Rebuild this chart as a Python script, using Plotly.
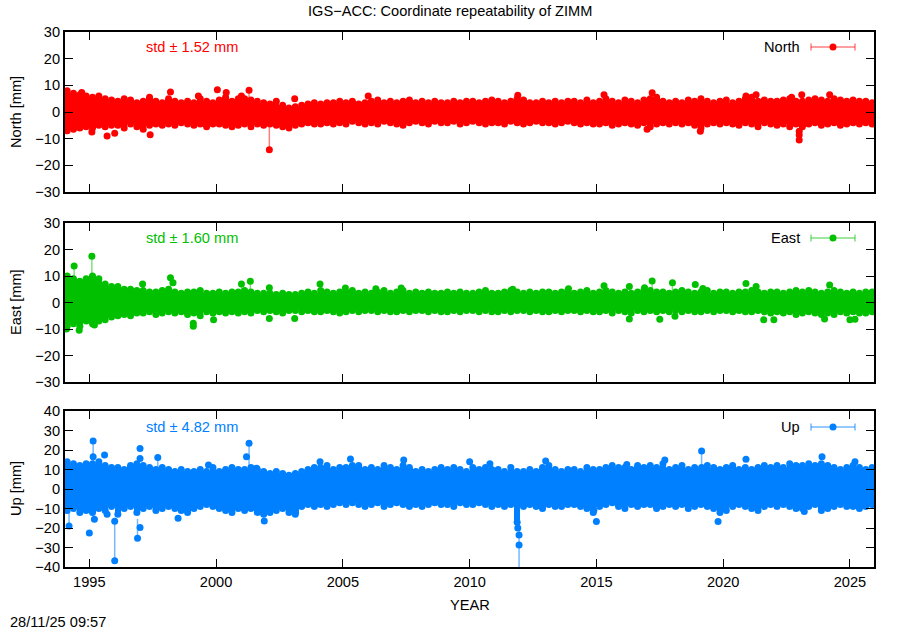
import plotly.graph_objects as go
from plotly.subplots import make_subplots

# ---------------- data ----------------
# quarter-year bins: 1994.0 ... 2025.75 (bin centres)
bin_years = [1994.125 + 0.25 * i for i in range(128)]

north_hi = [8, 7, 6.5, 6, 5.5, 6, 5, 4.5, 4, 5, 4.5, 3.5, 4, 5.5, 4, 3.5,
            5, 4, 3.5, 4, 3.5, 5, 4, 3.5, 4.5, 5.5, 4, 5, 5, 4.5, 4, 3.5,
            3, 4, 2.5, 1.5, 2, 2.5, 3, 3.5, 3, 3.5, 3.5, 4, 3.5, 4, 3, 3.5,
            4, 4.5, 3.5, 4, 3.5, 4, 4.5, 3.5, 4, 3.5, 4, 3.5, 3.5, 4, 3.5, 4,
            4, 3.5, 4, 4.5, 4, 3.5, 4, 5, 4.5, 3.5, 3.5, 4, 3.5, 4, 3.5, 4,
            4, 3.5, 4.5, 3.5, 4, 5, 4, 3.5, 4.5, 4, 3.5, 4.5, 5, 5.5, 4, 3.5,
            4, 3.5, 4.5, 4, 5, 4, 3.5, 4, 4.5, 3.5, 4, 5, 5.5, 4, 4.5, 4,
            4, 4.5, 5, 4, 4, 4.5, 5, 4.5, 4, 5, 4.5, 4, 4.5, 4, 4, 3.5]
north_lo = [-7, -6.5, -6, -5.5, -6, -5, -5.5, -5, -5, -6, -4.5, -5.5, -6.5, -5, -4.5, -5,
            -4.5, -5, -4, -4.5, -5, -4.5, -5.5, -4.5, -4.5, -5, -5.5, -5, -4.5, -5.5, -4.5, -5,
            -4.5, -5, -5.5, -6, -5, -4.5, -4, -4.5, -4.5, -4, -4.5, -4, -4.5, -3.5, -4, -4.5,
            -4, -4.5, -3.5, -4, -4.5, -5, -4, -3.5, -4, -4.5, -3.5, -4, -4, -3.5, -4.5, -4,
            -3.5, -4, -4.5, -4, -4, -4.5, -3.5, -4, -4.5, -4, -3.5, -4, -4, -4.5, -4, -3.5,
            -4, -4.5, -4, -4.5, -4.5, -4, -5, -4.5, -4, -4.5, -5, -4, -5.5, -4.5, -4, -4.5,
            -4, -4.5, -4, -5, -6, -4.5, -4, -4.5, -4, -4.5, -5, -4, -4.5, -5.5, -4, -4.5,
            -5, -4.5, -5.5, -4.5, -5.5, -4.5, -4, -5, -4.5, -4, -5, -4.5, -4, -4.5, -4, -4.5]

east_hi = [10, 9, 8, 9, 10, 9, 7, 6, 6, 5, 5, 4.5, 4.5, 4, 4, 4.5,
           5, 4, 3.5, 4, 4, 4.5, 3.5, 3.5, 4, 3.5, 4, 4, 4.5, 4, 3.5, 3.5,
           3.5, 3, 3.5, 3, 3, 3.5, 4, 3.5, 4.5, 4, 3.5, 4, 4, 4.5, 3.5, 4,
           3.5, 4, 4.5, 3.5, 4, 4.5, 3.5, 4, 3.5, 4, 3.5, 3.5, 4, 3.5, 4, 3.5,
           3.5, 4, 4.5, 3.5, 3.5, 4, 4.5, 4, 3.5, 4, 3.5, 4, 4, 3.5, 4, 4.5,
           3.5, 4, 4.5, 3.5, 4, 4.5, 4, 3.5, 4, 3.5, 4, 4.5, 4.5, 4, 4, 3.5,
           4, 4.5, 4, 3.5, 4, 4.5, 3.5, 4, 4, 3.5, 4, 4, 4.5, 4, 3.5, 4,
           4, 3.5, 4, 4.5, 4, 4.5, 4, 3.5, 4, 4.5, 4, 3.5, 4, 3.5, 4, 4]
east_lo = [-9, -8, -9, -7, -8, -7, -6.5, -5.5, -5, -4.5, -5, -4, -4, -3.5, -4.5, -4,
           -3.5, -4, -3.5, -4.5, -4, -5, -3.5, -4, -3.5, -4, -3.5, -4, -3.5, -4, -3, -3.5,
           -3, -3.5, -4, -3, -3, -3.5, -3, -3.5, -3.5, -3, -3.5, -4, -3.5, -3, -3.5, -3,
           -3, -3.5, -3, -3.5, -3.5, -3, -3.5, -3, -3, -3.5, -3, -3.5, -3.5, -3, -3.5, -3,
           -3, -3.5, -3, -3.5, -3.5, -3, -3.5, -3, -3, -3.5, -3, -3.5, -3.5, -3, -3.5, -3,
           -3, -3.5, -3, -3.5, -3.5, -3, -4, -3, -3.5, -4, -3, -3.5, -3, -3.5, -3, -3.5,
           -3, -3.5, -3, -3.5, -3.5, -3, -3.5, -3, -3, -3.5, -3, -3.5, -3.5, -3, -3.5, -4,
           -3.5, -4, -3.5, -4.5, -4, -3.5, -4, -4.5, -4, -4.5, -3.5, -4, -3.5, -4, -4, -3.5]

up_hi = [14, 13, 12, 13, 13, 14, 12, 11, 11, 10, 12, 13, 12, 11, 10, 11,
         10, 9, 10, 9, 9, 10, 9, 11, 9, 10, 11, 10, 10, 11, 10, 9,
         8, 9, 8, 7, 8, 9, 10, 11, 11, 12, 10, 11, 11, 12, 12, 10,
         11, 10, 12, 11, 10, 12, 11, 9, 10, 9, 10, 11, 10, 11, 10, 9,
         11, 10, 11, 10, 10, 9, 11, 9, 9, 10, 9, 11, 12, 10, 9, 10,
         10, 9, 11, 10, 10, 11, 12, 11, 11, 10, 12, 11, 12, 11, 13, 10,
         11, 12, 10, 11, 10, 12, 11, 10, 11, 12, 10, 11, 10, 11, 12, 11,
         12, 11, 13, 12, 12, 13, 12, 13, 12, 11, 10, 11, 12, 11, 10, 11]
up_lo = [-11, -10, -12, -11, -12, -10, -11, -9, -13, -10, -9, -12, -10, -9, -11, -10,
         -9, -10, -11, -12, -10, -9, -8, -9, -10, -11, -12, -10, -11, -10, -12, -13,
         -12, -11, -10, -12, -13, -9, -8, -9, -8, -9, -8, -7, -8, -7, -8, -9,
         -8, -7, -9, -8, -7, -8, -9, -8, -9, -8, -7, -8, -8, -9, -7, -8,
         -8, -7, -8, -9, -8, -9, -8, -17, -9, -8, -9, -10, -8, -9, -9, -8,
         -8, -9, -10, -12, -9, -8, -7, -9, -10, -8, -9, -8, -8, -10, -9, -8,
         -9, -8, -10, -9, -8, -9, -10, -12, -11, -9, -8, -9, -10, -11, -9, -8,
         -9, -8, -9, -10, -10, -9, -8, -11, -10, -9, -8, -9, -9, -10, -9, -8]

# isolated points: year, value, error bar above, error bar below
north_out_x = [1994.7, 1995.1, 1995.7, 1996.0, 1997.4, 1998.2, 1999.3, 2000.05, 2000.4, 2001.0,
               2001.3, 2002.1, 2003.1, 2006.0, 2011.9, 2015.3, 2017.2, 2017.0, 2019.1, 2020.9,
               2021.3, 2022.7, 2023.0, 2023.0, 2023.0, 2023.1, 2024.2]
north_out_y = [7.3, -7.5, -9.0, -8.0, -8.5, 7.5, 6.0, 8.3, 7.3, 6.0,
               8.2, -14.2, 5.0, 6.0, 6.3, 6.5, 7.2, -6.5, -7.2, 6.0,
               6.5, 5.5, -7.2, -8.6, -10.5, 6.5, 6.5]
north_out_ep = [0, 0, 0, 0, 0, 0, 0, 0, 0, 0,
                0, 12.0, 0, 0, 0, 0, 0, 0, 0, 0,
                0, 0, 0, 0, 0, 0, 0]
north_out_em = [0, 0, 0, 0, 0, 0, 0, 0, 0, 0,
                4.5, 0, 0, 0, 0, 0, 0, 0, 0, 0,
                0, 0, 0, 0, 0, 0, 0]

east_out_x = [1994.4, 1995.1, 1994.1, 1994.6, 1995.2, 1997.1, 1998.2, 1998.3, 1999.1, 1999.1,
              1999.9, 2001.0, 2001.35, 2002.1, 2002.1, 2003.1, 2004.1, 2005.1, 2006.3, 2007.3,
              2011.7, 2013.9, 2015.3, 2016.3, 2016.9, 2017.2, 2018.0, 2018.9, 2019.2, 2020.9,
              2021.3, 2024.2, 2016.3, 2017.5, 2018.1, 2021.6, 2022.0, 2024.0, 2025.0, 2025.2]
east_out_y = [13.8, 17.5, -10.0, -10.5, -8.5, 7.0, 9.3, 7.5, -9.0, -7.8,
              -6.5, 7.0, 8.0, 5.6, -6.0, -6.0, 7.0, 5.5, 5.2, 5.5,
              5.0, 5.2, 6.3, 6.0, 5.6, 8.1, 7.5, 6.8, 5.3, 7.2,
              6.0, 6.6, -6.2, -6.3, -5.2, -6.5, -6.5, -6.2, -6.5, -6.3]
east_out_em = [5.0, 8.5, 0, 0, 0, 0, 4.0, 0, 0, 0,
               0, 3.5, 4.5, 0, 0, 0, 0, 0, 0, 0,
               0, 0, 0, 0, 0, 4.5, 4.0, 0, 0, 0,
               0, 0, 0, 0, 0, 0, 0, 0, 0, 0]

up_out_x = [1994.2, 1995.0, 1995.15, 1995.15, 1995.2, 1995.6, 1995.7, 1996.0, 1996.0, 1996.9,
            1997.0, 1997.0, 1997.0, 1997.7, 1998.5, 1999.7, 2001.2, 2001.3, 2001.6, 2001.9,
            2004.1, 2005.3, 2007.4, 2010.0, 2010.8, 2011.9, 2011.95, 2011.95, 2013.0, 2014.9,
            2015.0, 2016.2, 2017.7, 2019.15, 2019.15, 2019.8, 2020.9, 2023.9, 2023.2, 2025.2]
up_out_y = [-19.0, -22.5, 24.6, 16.6, -15.5, 17.4, -13.0, -16.5, -36.8, -25.3,
            -19.8, 20.8, 15.7, 16.2, -15.0, 12.3, 16.6, 23.4, 10.6, -16.4,
            14.0, 15.4, 14.9, 14.0, 13.0, -20.0, -23.6, -28.7, 14.4, -11.0,
            -16.7, 12.6, 14.9, 19.5, 11.0, -16.7, 15.2, 16.6, -11.6, 14.0]
up_out_ep = [10, 0, 0, 0, 0, 0, 0, 0, 22, 10,
             0, 0, 0, 0, 0, 0, 0, 0, 0, 0,
             0, 0, 0, 0, 0, 0, 0, 8, 0, 0,
             0, 0, 0, 0, 0, 0, 0, 0, 0, 0]
up_out_em = [0, 0, 14, 0, 0, 0, 0, 0, 0, 0,
             0, 0, 0, 8, 0, 0, 0, 14, 0, 0,
             0, 0, 0, 0, 0, 0, 0, 14, 0, 0,
             0, 0, 0, 10, 0, 0, 0, 0, 0, 0]

north_std, east_std, up_std = 1.52, 1.60, 4.82
panel_names = ["North", "East", "Up"]
colors = ["#ff0000", "#00c000", "#0080ff"]
light = ["rgba(255,0,0,0.5)", "rgba(0,192,0,0.5)", "rgba(0,128,255,0.55)"]
y_ranges = [[-30, 30], [-30, 30], [-40, 40]]
x_ticks = [1995, 2000, 2005, 2010, 2015, 2020, 2025]

# ---------------- figure ----------------
W, H = 900, 630
L, R, T, B = 65, 26, 32, 63
pw, ph = W - L - R, H - T - B
FS = 14.6


def py(ypx):
    return (H - B - ypx) / ph


def px(xpx):
    return (xpx - L) / pw


domains = [[py(192), 1.0], [py(382), py(223)], [0.0, py(411)]]

fig = make_subplots(rows=3, cols=1, shared_xaxes=True)
FONT = "Liberation Sans, Arial, sans-serif"

series = [
    (north_hi, north_lo, north_out_x, north_out_y, north_out_ep, north_out_em, north_std),
    (east_hi, east_lo, east_out_x, east_out_y, [0] * len(east_out_x), east_out_em, east_std),
    (up_hi, up_lo, up_out_x, up_out_y, up_out_ep, up_out_em, up_std),
]

for i, (hi, lo, ox, oy, ep, em, sd) in enumerate(series):
    r = i + 1
    c = colors[i]
    fig.add_trace(go.Bar(x=bin_years, y=[h - l for h, l in zip(hi, lo)], base=lo,
                         width=0.25, marker=dict(color=c, line=dict(width=0)),
                         showlegend=False, hoverinfo="skip"), row=r, col=1)
    fig.add_trace(go.Scatter(x=bin_years + bin_years, y=hi + lo, mode="markers",
                             marker=dict(symbol="circle", size=7, color=c),
                             showlegend=False, hoverinfo="skip"), row=r, col=1)
    fig.add_trace(go.Scatter(x=ox, y=oy, mode="markers",
                             marker=dict(symbol="circle", size=7, color=c),
                             error_y=dict(type="data", symmetric=False, array=ep,
                                          arrayminus=em, color=light[i],
                                          thickness=1.5, width=0),
                             showlegend=False, hoverinfo="skip"), row=r, col=1)

axis_common = dict(showline=True, linecolor="black", linewidth=2, mirror="ticks",
                   ticks="inside", ticklen=8, tickcolor="black", tickwidth=1,
                   showgrid=False, zeroline=False,
                   tickfont=dict(family=FONT, size=FS, color="black"))

for i in range(3):
    r = i + 1
    fig.update_yaxes(range=y_ranges[i], dtick=10, domain=domains[i], row=r, col=1,
                     **axis_common)
    fig.update_xaxes(range=[1994.04, 2025.95], tickvals=x_ticks,
                     showticklabels=(i == 2), row=r, col=1, **axis_common)

annotations = []
centres = [47, 238, 427]
ylab_c = [112, 302, 489]
for i in range(3):
    std_val = series[i][6]
    annotations.append(dict(x=px(192), y=py(centres[i]), xref="paper", yref="paper",
                            text=f"std \u00b1 {std_val:.2f} mm", showarrow=False,
                            font=dict(family=FONT, size=FS, color=colors[i]),
                            xanchor="center", yanchor="middle"))
    annotations.append(dict(x=px(802), y=py(centres[i]), xref="paper", yref="paper",
                            text=panel_names[i], showarrow=False,
                            font=dict(family=FONT, size=FS, color="black"),
                            xanchor="right", yanchor="middle"))
    annotations.append(dict(x=px(16), y=py(ylab_c[i]), xref="paper", yref="paper",
                            text=f"{panel_names[i]} [mm]", showarrow=False, textangle=-90,
                            font=dict(family=FONT, size=FS, color="black"),
                            xanchor="center", yanchor="middle"))

annotations.append(dict(x=px(450), y=py(11), xref="paper", yref="paper",
                        text="IGS\u2212ACC: Coordinate repeatability of ZIMM", showarrow=False,
                        font=dict(family=FONT, size=FS, color="black"),
                        xanchor="center", yanchor="middle"))
annotations.append(dict(x=px(470), y=py(605), xref="paper", yref="paper",
                        text="YEAR", showarrow=False,
                        font=dict(family=FONT, size=FS, color="black"),
                        xanchor="center", yanchor="middle"))
annotations.append(dict(x=px(8), y=py(622), xref="paper", yref="paper",
                        text="28/11/25 09:57", showarrow=False,
                        font=dict(family=FONT, size=FS, color="black"),
                        xanchor="left", yanchor="middle"))

shapes = []
for i in range(3):
    yc = py(centres[i])
    cap = 3.5 / ph
    shapes.append(dict(type="line", xref="paper", yref="paper", x0=px(811), x1=px(855),
                       y0=yc, y1=yc, line=dict(color=light[i], width=1.5)))
    for xx in (811, 855):
        shapes.append(dict(type="line", xref="paper", yref="paper", x0=px(xx), x1=px(xx),
                           y0=yc - cap, y1=yc + cap, line=dict(color=light[i], width=1.5)))
    rr = 3.5
    shapes.append(dict(type="circle", xref="paper", yref="paper",
                       x0=px(833 - rr), x1=px(833 + rr), y0=yc - rr / ph, y1=yc + rr / ph,
                       fillcolor=colors[i], line=dict(width=0)))

fig.update_layout(width=W, height=H, margin=dict(l=L, r=R, t=T, b=B),
                  paper_bgcolor="white", plot_bgcolor="white", showlegend=False,
                  bargap=0, barmode="overlay",
                  annotations=annotations, shapes=shapes,
                  font=dict(family=FONT, size=FS, color="black"))

fig.write_html("out.html", config={"displayModeBar": False},
               post_script="document.body.style.margin='0';document.body.style.overflow='hidden';")
